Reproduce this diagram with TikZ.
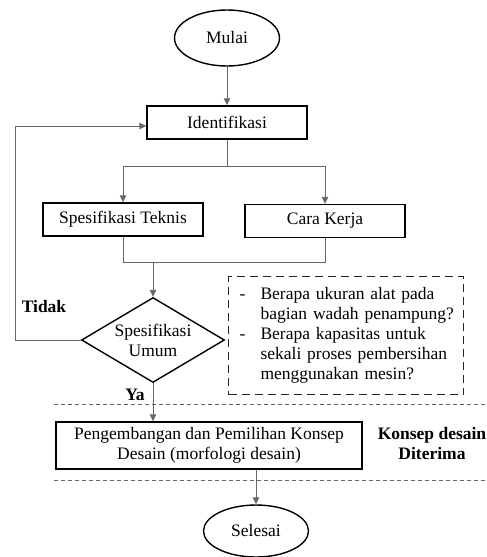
\documentclass[tikz,border=0pt]{standalone}
\usepackage{fontspec}
\setmainfont{Liberation Serif}
\usetikzlibrary{positioning,arrows.meta,shapes.geometric,calc}

\begin{document}
\begin{tikzpicture}[
  x=1pt, y=-1pt,
  font=\fontsize{17.5}{20}\selectfont,
  >={Triangle[length=7pt,width=6.5pt]},
  box/.style={draw=black, line width=1.4pt, align=center, inner sep=0pt},
  proc/.style={box, minimum width=160pt, minimum height=33pt},
  term/.style={box, ellipse, minimum width=105pt, minimum height=56pt},
  decide/.style={box, diamond, aspect=1.7, minimum width=143pt, minimum height=85pt},
  note/.style={draw=black!85, dashed, dash pattern=on 8pt off 5pt, line width=1.1pt,
               inner sep=0pt, text width=235pt, minimum height=118pt, align=left},
  line/.style={draw=black!60, line width=0.9pt},
  flow/.style={line, ->},
  sep/.style={draw=black!60, dash pattern=on 4pt off 3pt, line width=0.9pt},
  lbl/.style={font=\fontsize{17.5}{20}\selectfont\bfseries, align=center},
]
\useasboundingbox (0,0) rectangle (487,557);

% ---- main column
\node[term] (mulai) at (227,38) {Mulai};
\node[proc] (ident) at (227,122.5) {Identifikasi};
\node[proc] (spek) at (123,219.5) {Spesifikasi Teknis};
\node[proc] (cara) at (325,221) {Cara Kerja};
\node[decide] (umum) at (153,340) {Spesifikasi\\Umum};
\node[proc, minimum width=306pt, minimum height=47pt] (konsep) at (209,445.5)
  {Pengembangan dan Pemilihan Konsep\\Desain (morfologi desain)};
\node[term, minimum height=52pt] (selesai) at (256,531) {Selesai};

% ---- question box
\node[note, anchor=north west] (tanya) at (228,276)
  {\begin{tabular}{@{\hspace{11pt}}p{9pt}@{\hspace{12pt}}l@{}}
   - & Berapa ukuran alat pada\\
     & bagian wadah penampung?\\
   - & Berapa kapasitas untuk\\
     & sekali proses pembersihan\\
     & menggunakan mesin?
   \end{tabular}};

% ---- labels
\node[lbl] (tidak) at (44,307) {Tidak};
\node[lbl] (ya) at (135,395) {Ya};
\node[lbl] (terima) at (432,444) {Konsep desain\\Diterima};

% ---- connectors
\coordinate (cabang) at (227,166);
\coordinate (gabung) at (153,262);
\coordinate (kiri) at (15,126);
\draw[flow] (mulai) -- (ident);
\draw[line] (ident) -- (cabang);
\draw[flow] (cabang) -| (spek.north);
\draw[flow] (cabang) -| (cara.north);
\draw[line] (spek.south) |- (cara.south |- gabung) -- (cara.south);
\draw[flow] (gabung) -- (umum.north);
\draw[flow] (umum.west) -| (kiri) -- (ident.west |- kiri);
\draw[flow] (umum.south) -- (konsep.north -| umum.south);
\draw[flow] (konsep.south -| selesai.north) -- (selesai.north);

% ---- phase separators
\draw[sep] (54,404) -- (487,404);
\draw[sep] (54,480) -- (487,480);
\end{tikzpicture}
\end{document}
